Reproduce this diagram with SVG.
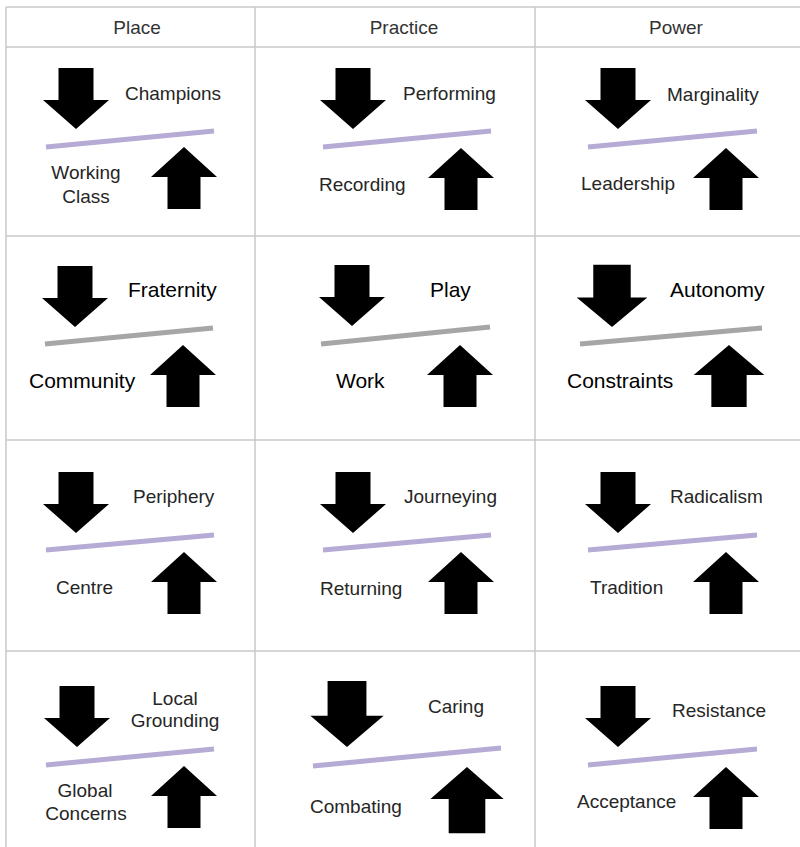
<svg xmlns="http://www.w3.org/2000/svg" xmlns:xlink="http://www.w3.org/1999/xlink" width="800" height="847" viewBox="0 0 800 847">
<style>
.grid{stroke:#c8c8c8;stroke-width:1.5;fill:none}
.t{font-family:"Liberation Sans",Arial,sans-serif;font-size:19px;fill:#262626}
.a{font-family:"Liberation Sans",Arial,sans-serif;font-size:21px;fill:#000}
.h{font-family:"Liberation Sans",Arial,sans-serif;font-size:19px;fill:#333;text-anchor:middle}
.m{text-anchor:middle}
.lav{stroke:#b6abd5;stroke-width:5;stroke-linecap:butt}
.gry{stroke:#a6a6a6;stroke-width:5;stroke-linecap:butt}
</style>
<defs>
<path id="dn" d="M-17.5,-61 H17.5 V-29 H33 L0,0 L-33,-29 H-17.5 Z" fill="#000"/>
<path id="up" d="M0,0 L33,30 H16.5 V62 H-16.5 V30 H-33 Z" fill="#000"/>
</defs>
<rect width="800" height="847" fill="#fff"/>
<g id="grid" class="grid">
<line x1="6" y1="7" x2="800" y2="7"/>
<line x1="6" y1="47" x2="800" y2="47"/>
<line x1="6" y1="236" x2="800" y2="236"/>
<line x1="6" y1="440" x2="800" y2="440"/>
<line x1="6" y1="651" x2="800" y2="651"/>
<line x1="6" y1="7" x2="6" y2="847"/>
<line x1="255" y1="7" x2="255" y2="847"/>
<line x1="535" y1="7" x2="535" y2="847"/>
</g>
<g id="header">
<text class="h" x="137" y="34">Place</text>
<text class="h" x="404" y="34">Practice</text>
<text class="h" x="676" y="34">Power</text>
</g>
<g id="connectors"></g>
<g id="place-1">
<use xlink:href="#dn" x="76" y="129"/><use xlink:href="#up" x="184" y="147"/>
<line class="lav" x1="46" y1="147" x2="214" y2="131"/>
<text class="t" x="125" y="100">Champions</text>
<text class="t m" x="86" y="179">Working</text>
<text class="t m" x="86" y="203">Class</text>
</g>
<g id="practice-1">
<use xlink:href="#dn" x="353" y="129"/><use xlink:href="#up" x="461" y="148"/>
<line class="lav" x1="323" y1="147" x2="491" y2="131"/>
<text class="t" x="403" y="100">Performing</text>
<text class="t" x="319" y="191">Recording</text>
</g>
<g id="power-1">
<use xlink:href="#dn" x="618" y="129"/><use xlink:href="#up" x="726" y="148"/>
<line class="lav" x1="588" y1="147" x2="757" y2="131"/>
<text class="t" x="667" y="101">Marginality</text>
<text class="t" x="581" y="190">Leadership</text>
</g>
<g id="place-2">
<use xlink:href="#dn" x="75" y="327"/><use xlink:href="#up" x="183" y="345"/>
<line class="gry" x1="45" y1="344" x2="213" y2="328"/>
<text class="a" x="128" y="297">Fraternity</text>
<text class="a" x="29" y="388">Community</text>
</g>
<g id="practice-2">
<use xlink:href="#dn" x="352" y="326"/><use xlink:href="#up" x="460" y="345"/>
<line class="gry" x1="321" y1="344" x2="490" y2="327"/>
<text class="a" x="430" y="297">Play</text>
<text class="a" x="336" y="388">Work</text>
</g>
<g id="power-2">
<use xlink:href="#dn" transform="translate(612,327) scale(1.07,1.02)"/><use xlink:href="#up" transform="translate(729,345) scale(1.07,1.0)"/>
<line class="gry" x1="580" y1="344" x2="762" y2="328"/>
<text class="a" x="670" y="297">Autonomy</text>
<text class="a" x="567" y="388">Constraints</text>
</g>
<g id="place-3">
<use xlink:href="#dn" x="76" y="533"/><use xlink:href="#up" x="184" y="552"/>
<line class="lav" x1="46" y1="550" x2="214" y2="535"/>
<text class="t" x="133" y="503">Periphery</text>
<text class="t" x="56" y="594">Centre</text>
</g>
<g id="practice-3">
<use xlink:href="#dn" x="353" y="533"/><use xlink:href="#up" x="461" y="552"/>
<line class="lav" x1="323" y1="550" x2="491" y2="535"/>
<text class="t" x="404" y="503">Journeying</text>
<text class="t" x="320" y="595">Returning</text>
</g>
<g id="power-3">
<use xlink:href="#dn" x="618" y="533"/><use xlink:href="#up" x="726" y="552"/>
<line class="lav" x1="588" y1="550" x2="757" y2="535"/>
<text class="t" x="670" y="503">Radicalism</text>
<text class="t" x="590" y="594">Tradition</text>
</g>
<g id="place-4">
<use xlink:href="#dn" x="77" y="747"/><use xlink:href="#up" x="184" y="766"/>
<line class="lav" x1="46" y1="765" x2="214" y2="749"/>
<text class="t m" x="175" y="705">Local</text>
<text class="t m" x="175" y="727">Grounding</text>
<text class="t m" x="85" y="797">Global</text>
<text class="t m" x="86" y="820">Concerns</text>
</g>
<g id="practice-4">
<use xlink:href="#dn" transform="translate(347,747) scale(1.11,1.08)"/><use xlink:href="#up" transform="translate(467,767) scale(1.11,1.07)"/>
<line class="lav" x1="313" y1="766" x2="501" y2="748"/>
<text class="t" x="428" y="713">Caring</text>
<text class="t" x="310" y="813">Combating</text>
</g>
<g id="power-4">
<use xlink:href="#dn" x="618" y="747"/><use xlink:href="#up" x="726" y="767"/>
<line class="lav" x1="588" y1="765" x2="757" y2="749"/>
<text class="t" x="672" y="717">Resistance</text>
<text class="t" x="577" y="808">Acceptance</text>
</g>
</svg>
